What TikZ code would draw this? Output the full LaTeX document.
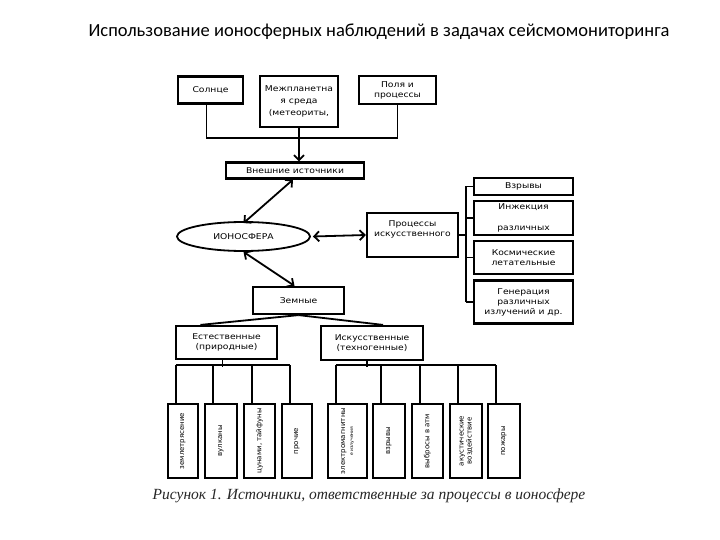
\documentclass[tikz,border=0pt]{standalone}
\usepackage{fontspec}
\usepackage{graphicx}
\newfontfamily\boxfont{DejaVu Sans}[FakeStretch=1.15]
\newfontfamily\rotfont{DejaVu Sans}
\newfontfamily\titlefont{Carlito}
\newfontfamily\capfont{Liberation Serif}
\usetikzlibrary{shapes.geometric, positioning, arrows.meta, calc}

\begin{document}
\begin{tikzpicture}[x=1pt, y=-1pt, >={Straight Barb[length=5pt,width=10pt]},
    box/.style={draw, line width=2.2pt, align=center, inner sep=1pt,
      font=\boxfont\fontsize{8}{10}\selectfont},
    vbox/.style={box, minimum width=31pt, minimum height=74pt,
      font=\rotfont\fontsize{7}{8}\selectfont},
    link/.style={line width=1.8pt}]
  \useasboundingbox (0,0) rectangle (720,540);
  \node[font=\titlefont\fontsize{18.5}{20}\selectfont] (title) at (379,32)
    {Использование ионосферных наблюдений\ в задачах\ сейсмомониторинга};
  % external sources
  \node[box, minimum width=65pt, minimum height=27pt] (sun) at (210.5,90) {Солнце};
  \node[box, minimum width=78pt, minimum height=51pt, font=\boxfont\fontsize{8}{12}\selectfont]
    (inter) at (299,101.5) {Межпланетна\\я среда\\(метеориты,};
  \node[box, minimum width=77pt, minimum height=28pt] (fields) at (397.5,90) {Поля и\\процессы};
  \node[box, minimum width=138pt, minimum height=16pt] (ext) at (295,170.5) {Внешние источники};
  \node[draw, ellipse, line width=1.8pt, minimum width=133pt, minimum height=29pt,
    font=\boxfont\fontsize{8}{10}\selectfont] (iono) at (243.5,236.5) {ИОНОСФЕРА};
  % artificial processes
  \node[box, minimum width=91pt, minimum height=44pt] (proc) at (412.5,235)
    {Процессы\\искусственного\\\strut};
  \node[box, minimum width=99pt, minimum height=17pt] (rb1) at (523.5,186.5) {Взрывы};
  \node[box, minimum width=99pt, minimum height=34pt] (rb2) at (523.5,218) {Инжекция\\[11pt]различных};
  \node[box, minimum width=99pt, minimum height=33pt] (rb3) at (523.5,257.5) {Космические\\летательные};
  \node[box, minimum width=99pt, minimum height=43pt] (rb4) at (523.5,302)
    {Генерация\\различных\\излучений и др.};
  % earth sources
  \node[box, minimum width=91pt, minimum height=27pt] (earth) at (298.5,300.5) {Земные};
  \node[box, minimum width=101pt, minimum height=33pt] (nat) at (226.5,342.5) {Естественные\\(природные)};
  \node[box, minimum width=102pt, minimum height=34pt] (tech) at (372,343) {Искусственные\\(техногенные)};
  \node[vbox, minimum width=30pt] (n1) at (183,441) {\rotatebox{90}{землетрясение}};
  \node[vbox, minimum width=32pt] (n2) at (221,441) {\rotatebox{90}{вулканы}};
  \node[vbox] (n3) at (259.5,441) {\rotatebox{90}{цунами, тайфуны}};
  \node[vbox, minimum width=30pt] (n4) at (297,441) {\rotatebox{90}{прочие}};
  \node[vbox, minimum width=39pt] (t1) at (347.5,441)
    {\rotatebox{90}{\begin{tabular}{@{}c@{}}электромагнитны\\{\fontsize{4.5}{6}\selectfont е излучения}\end{tabular}}};
  \node[vbox, minimum width=32pt] (t2) at (389,441) {\rotatebox{90}{взрывы}};
  \node[vbox] (t3) at (427.5,441) {\rotatebox{90}{выбросы в атм}};
  \node[vbox, minimum width=32pt] (t4) at (466,441)
    {\rotatebox{90}{\begin{tabular}{@{}c@{}}акустические\\воздействие\end{tabular}}};
  \node[vbox, minimum width=32pt] (t5) at (504,441) {\rotatebox{90}{пожары}};
  \node[font=\capfont\itshape\fontsize{15.5}{17}\selectfont, text=black!85] (caption) at (369,496)
    {Рисунок 1. Источники, ответственные за процессы в ионосфере};

  \coordinate (topbus) at (0,138);
  \coordinate (br) at (466,0);
  \draw[link] ([xshift=-4pt]sun.south) |- (topbus -| fields.south) -- (fields.south);
  \draw[link,->] (inter.south) -- (inter.south |- ext.north);
  \draw[link,<->] ([xshift=-2pt]ext.south) -- ([yshift=-2pt]iono.north);
  \draw[link,<->] ([xshift=2pt]iono.east) -- (proc.west);
  \draw[link,<->] (iono.south) -- ([xshift=-4pt]earth.north);
  \draw[link] (proc.east) -- (proc.east -| br);
  \draw[link] (rb1.west -| br) -- (rb4.west -| br);
  \foreach \r in {rb1,rb2,rb3,rb4}
    \draw[link] (\r.west -| br) -- (\r.west);
  \draw[link] (earth.south) -- ([xshift=-26pt]nat.north);
  \draw[link] (earth.south) -- ([xshift=11pt]tech.north);
  \draw[link] ([xshift=-4pt]nat.south) -- ++(0,7);
  \draw[link] ([xshift=-5pt]tech.south) -- ++(0,6);
  \foreach \b in {n1,n2,n3,n4,t1,t2,t3,t4,t5}
    \draw[link] ($(\b.north west)+(9,0)$) -- ++(0,-38);
  \draw[link] ($(n1.north west)+(9,-38)$) -- ($(n4.north west)+(9,-38)$);
  \draw[link] ($(t1.north west)+(9,-38)$) -- ($(t5.north west)+(9,-38)$);
\end{tikzpicture}
\end{document}
